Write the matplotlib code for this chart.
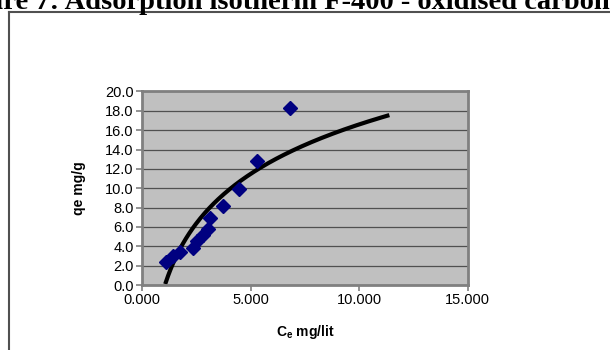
import numpy as np
import matplotlib
matplotlib.use("Agg")
import matplotlib.pyplot as plt
from matplotlib.lines import Line2D

# data
ce = [1.10, 1.44, 1.75, 2.36, 2.52, 2.82, 3.05, 3.13, 3.75, 4.47, 5.31, 6.82]
qe = [2.4, 3.0, 3.4, 3.8, 4.5, 5.2, 5.8, 6.9, 8.2, 9.9, 12.8, 18.3]

# logarithmic trendline  qe = a*ln(ce) + b
trend_a = 7.38
trend_b = -0.40
trend_start = 1.10
trend_end = 11.3

x_ticks = [0, 5, 10, 15]
y_ticks = [0, 2, 4, 6, 8, 10, 12, 14, 16, 18, 20]

plt.rcParams['font.family'] = ['Liberation Sans', 'DejaVu Sans']
plt.rcParams['mathtext.fontset'] = 'custom'
plt.rcParams['mathtext.rm'] = 'Liberation Sans'
plt.rcParams['mathtext.bf'] = 'Liberation Sans:bold'

fig = plt.figure(figsize=(6.1, 3.5), dpi=100)
ax = fig.add_axes([0.2328, 0.1857, 0.5339, 0.553])

ax.set_facecolor('#c0c0c0')
ax.set_xlim(0, 15)
ax.set_ylim(0, 20)
ax.set_xticks(x_ticks)
ax.set_yticks(y_ticks)
ax.set_xticklabels(['%.3f' % v for v in x_ticks])
ax.set_yticklabels(['%.1f' % v for v in y_ticks])
ax.tick_params(labelsize=10.5, color='#808080', length=4, width=1.2, pad=2)
ax.yaxis.grid(True, color='#505050', lw=0.9)
ax.set_axisbelow(True)
for s in ax.spines.values():
    s.set_color('#808080')
    s.set_linewidth(2)

xs = np.linspace(trend_start, trend_end, 200)
ax.plot(xs, trend_a * np.log(xs) + trend_b, color='black', lw=3, zorder=2)
ax.plot(ce, qe, ls='none', marker='D', ms=7, color='#000080', zorder=3, clip_on=False)

ax.set_ylabel('qe mg/g', fontweight='bold', fontsize=10, labelpad=14)
ax.set_xlabel(r'$\mathbf{C_e}$ mg/lit', fontweight='bold', fontsize=10, labelpad=11)

# cropped page caption and the chart border
fig.text(-0.086, 1 - 9 / 350, 'Figure 7: Adsorption isotherm F-400 - oxidised carbon',
         family='Liberation Serif', fontweight='bold', fontsize=20.5, va='baseline', ha='left')
fig.add_artist(Line2D([9 / 610, 9 / 610], [0, 1 - 12 / 350], color='#505050', lw=1.5))
fig.add_artist(Line2D([9 / 610, 1], [1 - 12 / 350, 1 - 12 / 350], color='#505050', lw=1.5))

fig.savefig('out.png', dpi=100)
